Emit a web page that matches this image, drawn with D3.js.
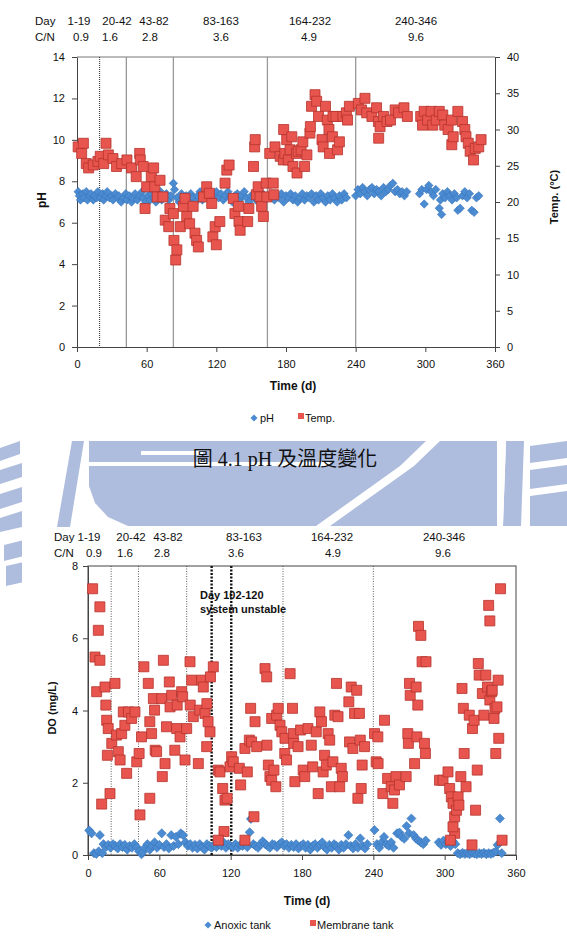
<!DOCTYPE html>
<html>
<head>
<meta charset="utf-8">
<title>pH / Temp / DO</title>
<script src="https://d3js.org/d3.v7.min.js"></script>
<style>
body { margin: 0; background: #fff; }
#fig text { font-family: "Liberation Sans", Arial, sans-serif; fill: #111; }
#fig .axis path, #fig .axis line { stroke: #444; }
</style>
</head>
<body>
<svg id="fig" width="567" height="941"></svg>
<script>
// ---------- data ----------
var dayRanges = ["1-19", "20-42", "43-82", "83-163", "164-232", "240-346"];
var cnRatios = ["0.9", "1.6", "2.8", "3.6", "4.9", "9.6"];
var phaseBreaks = [19.5, 42.5, 83, 164, 240];
var unstableDays = [104, 120.5];
var timeTicks = [0, 60, 120, 180, 240, 300, 360];
var phTicks = [0, 2, 4, 6, 8, 10, 12, 14];
var tempTicks = [0, 5, 10, 15, 20, 25, 30, 35, 40];
var doTicks = [0, 2, 4, 6, 8];

// [day, pH]
var phPoints = [[1,7.5],[2,7.3],[3,7.1],[5,7.4],[6,7.2],[8,7.5],[9,7.1],[11,7.3],[12,7.4],[14,7.1],[15,7.3],[17,7.2],[18,7.5],
  [20,7.2],[22,7.4],[23,7.1],[25,7.3],[26,7.5],[28,7.2],[30,7.3],[31,7.1],[33,7.4],[35,7.2],[36,7.3],[38,7.0],[40,7.2],[42,7.4],
  [43,7.1],[45,7.3],[47,7.0],[48,7.2],[50,7.4],[52,7.1],[54,7.3],[56,7.5],[57,7.2],[59,7.0],[61,7.3],[63,7.1],[64,7.4],[66,7.2],
  [68,7.0],[70,7.3],[72,7.5],[73,7.1],[75,7.2],[77,7.4],[79,7.1],[81,7.3],[83,7.9],[84,7.6],[86,7.2],[88,7.0],[90,7.4],[92,7.2],
  [94,7.3],[96,7.1],[98,7.4],[100,7.2],[102,7.0],[104,7.3],[106,7.5],[108,7.1],[110,7.3],[112,7.2],[114,7.4],[116,7.0],[118,7.3],
  [120,7.5],[122,7.2],[124,7.4],[126,7.1],[128,7.3],[130,7.5],[132,7.2],[134,7.0],[136,7.3],[138,7.4],[140,7.1],[142,7.3],[144,7.5],
  [146,7.2],[148,7.0],[150,7.3],[152,7.4],[154,7.1],[156,7.3],[158,7.2],[160,7.4],[162,7.1],[164,7.3],[166,7.2],[168,7.4],[170,7.1],
  [172,7.3],[174,7.2],[176,7.4],[178,7.0],[180,7.3],[182,7.2],[184,7.4],[186,7.1],[188,7.3],[190,7.0],[192,7.2],[194,7.4],[196,7.1],
  [198,7.3],[200,7.2],[202,7.4],[204,7.0],[206,7.3],[208,7.1],[210,7.4],[212,7.2],[214,7.0],[216,7.3],[218,7.1],[220,7.4],[222,7.2],
  [224,7.0],[226,7.3],[228,7.1],[230,7.4],[232,7.2],[240,7.3],[242,7.6],[244,7.4],[246,7.7],[248,7.5],[250,7.3],[252,7.6],[254,7.7],
  [256,7.4],[258,7.6],[260,7.5],[262,7.3],[264,7.7],[266,7.5],[268,7.6],[270,7.8],[272,7.9],[274,7.5],[276,7.6],[278,7.4],[280,7.5],
  [282,7.3],[284,7.5],[295,7.4],[299,6.9],[297,7.6],[301,7.6],[303,7.8],[305,7.5],[307,7.3],[309,7.6],[312,6.7],[314,6.4],[313,7.1],
  [315,7.4],[317,7.2],[319,7.5],[321,7.3],[323,7.1],[325,7.4],[327,7.2],[328,6.6],[330,6.7],[332,7.3],[334,7.5],[336,7.2],[338,7.4],
  [340,6.6],[342,6.5],[344,7.2],[346,7.3]];

// [day, temperature °C]
var tempPoints = [[1,27.6],[4,26.7],[5.5,28.1],[8,25.3],[10,24.7],[14,25.1],[18,25.6],[20,26.3],[23,25.3],[25,28.1],[27,26.5],
  [31,26],[34,24.9],[38.5,25.3],[43,25.8],[47,24.7],[51,23.5],[54,26.7],[54.5,25.8],[57,24.9],[58.6,19.1],[60,22.1],[64,23.5],
  [66,24.7],[67,22.1],[69,20.7],[71.5,23],[74,20.7],[76,17.5],[79,16.6],[80,19.1],[83,18.4],[83.5,14.7],[85,12],[86,13.4],[89,16.6],
  [91.6,19.4],[93,20.5],[94.5,18],[97,17],[100,19.4],[101.6,15.7],[103,14.7],[104.5,13.8],[109,20.7],[111.7,22.1],[114,21.2],
  [116,19.8],[117,15.2],[119,16.6],[120,14.1],[123,17.3],[127.5,22.6],[129,24.4],[131,25.1],[134.6,20.5],[136,18.4],[139,19.4],
  [139.5,17.3],[140.5,16.1],[147,17.3],[148,19.1],[152,24.9],[153,27.6],[153.5,28.6],[154.5,21],[156,22.1],[157.6,20.7],[159,19.4],
  [160.5,18],[163,22.6],[163.5,20.7],[166,26.7],[169,22.6],[169.5,21],[170.5,27.6],[175,26.3],[177.7,25.8],[178,30],[179,26.7],
  [180.6,28.6],[182,25.8],[183.5,27.2],[185,29],[186,24.9],[189,26.7],[189.5,24],[190.5,27],[193,27.2],[194.5,28.3],[196,24.9],
  [198,26.5],[200.6,29.5],[201,30.4],[202,33.2],[205,34.8],[206.4,33.9],[208,31.8],[211,28.6],[212,27.6],[214,33.2],[215.6,31.3],
  [217,30],[217.5,26.7],[220,29],[220.5,31.8],[223,31.8],[224.4,27.2],[226,28.3],[229,31.8],[232,32.3],[233,31.3],[234.6,33.2],
  [242.3,33.6],[245,32.7],[248,34.3],[249.5,32.3],[254,31.8],[258,33],[259.6,31.1],[259.8,28.8],[261,30.4],[264,31.8],[267,31.1],
  [270,31.3],[274,32.7],[277,32.3],[281.6,33],[284.5,31.8],[296,31.8],[297.6,30.6],[299,32.5],[302,31.3],[305,32.5],[306.4,30.6],
  [309.4,31.3],[312,32.5],[315,32],[316.7,30.6],[319.6,30],[322.5,31.3],[322.8,27.9],[324,29],[328,32.5],[332,31.1],[334,30],
  [335,29],[337,28.1],[338.6,27],[341.5,25.8],[343,27.4],[346,27.6],[348,28.6]];

// [day, DO mg/L]
var anoxicPoints = [[1,0.68],[3,0.6],[5,0.05],[7,0.03],[9,0.1],[10,0.55],[12,0.05],[13,0.3],[15,0.22],[17,0.28],[19,0.2],[21,0.3],
  [23,0.25],[25,0.18],[27,0.3],[29,0.22],[31,0.28],[33,0.15],[35,0.25],[37,0.2],[39,0.3],[41,0.22],[43,0.1],[45,0.02],[46,0.08],
  [48,0.2],[50,0.3],[52,0.15],[54,0.25],[56,0.35],[58,0.2],[60,0.28],[62,0.6],[64,0.22],[66,0.3],[68,0.18],[70,0.55],[72,0.25],
  [74,0.5],[76,0.3],[78,0.6],[80,0.55],[82,0.35],[84,0.25],[86,0.3],[88,0.2],[90,0.28],[92,0.18],[94,0.3],[96,0.22],[98,0.15],
  [100,0.3],[102,0.25],[104,0.2],[106,0.28],[108,0.22],[110,0.3],[112,0.25],[114,0.35],[116,0.2],[118,0.3],[120,0.25],[122,0.22],
  [124,0.3],[126,0.2],[128,0.28],[130,0.25],[132,0.3],[134,0.22],[136,0.63],[137,1.0],[139,0.3],[141,0.25],[143,0.2],[145,0.3],
  [147,0.38],[149,0.3],[151,0.25],[153,0.2],[155,0.3],[157,0.28],[159,0.22],[161,0.3],[163,0.35],[165,0.25],[167,0.3],[169,0.2],
  [171,0.28],[173,0.22],[175,0.3],[177,0.18],[179,0.25],[181,0.3],[183,0.2],[185,0.28],[187,0.15],[189,0.25],[191,0.3],[193,0.2],
  [195,0.28],[197,0.35],[199,0.22],[201,0.15],[203,0.28],[205,0.2],[207,0.3],[209,0.25],[211,0.15],[213,0.28],[215,0.2],[217,0.3],
  [219,0.55],[221,0.25],[223,0.18],[225,0.3],[227,0.2],[229,0.46],[231,0.25],[233,0.18],[235,0.3],[241,0.69],[243,0.3],[245,0.2],
  [247,0.35],[249,0.5],[251,0.3],[253,0.25],[255,0.35],[257,0.2],[260,0.6],[262,0.62],[264,0.5],[266,0.45],[268,0.8],[270,0.6],
  [272,1.01],[274,0.55],[276,0.45],[278,0.4],[280,0.35],[282,0.3],[284,0.4],[295,0.35],[297,0.28],[299,0.4],[301,0.3],[303,0.35],
  [305,0.25],[307,0.38],[309,0.3],[311,0.05],[313,0.02],[315,0.06],[317,0.03],[319,0.05],[321,0.02],[323,0.06],[325,0.04],
  [327,0.02],[329,0.05],[331,0.03],[333,0.06],[335,0.02],[337,0.05],[339,0.03],[341,0.06],[343,0.1],[344.5,0.28],[346.5,1.01],[348,0.05]];

var membranePoints = [[3.9,7.37],[10,6.87],[8.7,6.22],[5.9,5.48],[10,5.39],[7.3,4.52],[14.3,4.65],[15,4.15],[15.7,3.73],[17,3.5],
  [16.3,2.76],[20,3.09],[18.5,1.7],[11.5,1.41],[22.7,4.75],[24,3.32],[25.5,2.86],[27,2.63],[28.3,3.36],[29.7,3.96],[31,3.59],
  [32.5,2.26],[34,3.96],[36.7,3.78],[39.5,3.96],[41,2.58],[43,2.81],[43.7,1.11],[45,3.27],[47,5.21],[50.7,4.75],[52,3.69],
  [53.5,3.36],[55,4.33],[56,4.01],[56.5,2.9],[52,1.57],[57.7,2.86],[62,4.33],[62.5,2.17],[63.4,5.39],[64.8,2.53],[66,3.55],
  [68.4,4.79],[69,4.1],[70.4,4.42],[73,2.9],[74.6,3.5],[75,4.15],[77.4,3.27],[78.8,4.52],[79.6,4.38],[81.6,2.63],[83,3.5],
  [85.8,5.35],[87.2,4.84],[86,4.15],[88.6,3.83],[92.8,2.53],[94,4.01],[95.6,4.84],[97,4.65],[98.4,3.92],[99.8,3.0],[100,4.19],
  [101,3.69],[102.6,3.41],[103,4.93],[105.4,5.21],[109.6,2.35],[111,2.3],[113.3,1.84],[115.2,1.52],[117,1.57],[114.4,0.65],
  [109.6,0.41],[119.4,2.44],[120.8,2.72],[122.2,2.58],[127.3,2.4],[128.4,1.94],[132,2.95],[134,2.3],[135.7,3.18],[136.8,4.06],
  [137.6,3.13],[140.5,3.69],[139.6,1.06],[132,0.41],[141.9,3.0],[148.9,5.16],[150.3,4.93],[150.5,3.04],[151.7,2.49],[153,2.17],
  [154.5,2.07],[156.4,2.35],[158,1.89],[154.5,3.78],[158.7,3.87],[160,4.06],[161.5,3.59],[163,3.41],[165.7,3.23],[165.5,2.81],
  [167,2.63],[170,5.02],[172,4.06],[172.7,3.36],[173,3.09],[174,2.03],[176.7,3.0],[178.8,3.46],[181,2.35],[182.3,2.17],[185,3.5],
  [187.8,3.04],[189,2.44],[192,3.41],[193.6,1.7],[195,3.96],[196.4,3.69],[197.8,2.3],[199,2.76],[200.5,2.49],[202,3.36],
  [203.3,3.18],[204.7,1.89],[206,2.58],[207.6,3.87],[209,4.75],[210.3,3.83],[211.7,1.89],[213,2.4],[214,2.17],[219.4,4.24],
  [220,3.13],[221.4,4.65],[222.8,2.95],[224.2,3.92],[226,4.56],[227,1.57],[228.3,3.92],[229,3.18],[229.8,1.84],[230.6,2.49],
  [232.6,3.0],[241,3.36],[242.4,2.58],[243.8,3.27],[244,2.53],[248,1.7],[249.4,3.73],[252,2.12],[255,1.89],[256.4,1.43],
  [257.8,1.8],[259,2.17],[262,1.94],[267.6,2.17],[269,3.36],[269.5,3.09],[270.4,4.75],[271,4.42],[274.7,2.53],[276,4.65],
  [276.6,3.27],[277.4,4.15],[278,6.33],[280,6.08],[281,5.35],[284.3,5.35],[283,3.09],[283.8,2.81],[295.7,2.07],[298.6,2.07],
  [302.8,2.3],[304.2,1.84],[305.6,1.61],[307,1.43],[308.4,0.6],[307,0.78],[308.4,1.06],[310,1.24],[311.3,1.61],[312,1.38],
  [304.8,0.41],[313.6,2.17],[314.6,4.61],[315.7,4.06],[316.4,2.81],[318,1.89],[320.7,3.87],[323,0.28],[323.4,3.5],[324.8,3.73],
  [326,1.24],[327.4,2.35],[328.3,5.3],[329,4.98],[331.7,4.47],[333,3.87],[334.6,4.98],[336,4.65],[337,6.91],[338,6.48],[338,4.29],
  [339.4,4.52],[340,4.56],[341.5,3.78],[342.3,4.06],[343,2.81],[344,4.1],[345,4.84],[345.5,3.23],[347,7.37],[348.3,0.41]];

// ---------- drawing ----------
var svg = d3.select("#fig");
var blue = "#4a8bd1", blueEdge = "#3570b4";
var red = "#e8554e", redEdge = "#b5332d";
var font = "Liberation Sans, Arial, sans-serif";

// faint watermark logo behind the figure
var wm = svg.append("g").attr("fill", "#aebcdd");
var wmShapes = [
  [[0,448],[20,441],[20,454],[0,461]],
  [[0,470],[22,463],[22,477],[0,484]],
  [[0,494],[22,487],[22,502],[0,509]],
  [[0,518],[22,511],[22,527],[0,532]],
  [[4,545],[24,540],[24,556],[4,561]],
  [[6,566],[24,562],[24,582],[6,586]],
  [[72,441],[84,441],[70,527],[57,527]],
  [[89,441],[497,441],[497,526],[128,526],[108,517],[95,503],[89,486]],
  [[506,441],[524,441],[521,526],[503,526]],
  [[530,446],[567,441],[567,458],[530,463]],
  [[530,470],[567,465],[567,484],[530,489]],
  [[530,496],[567,491],[567,526],[530,526]]
];
wm.selectAll("polygon").data(wmShapes).enter().append("polygon")
  .attr("points", function (d) { return d.join(" "); });
var wmCuts = [
  [[141,451],[203,451],[203,455],[141,455]],
  [[89,462],[330,462],[330,466],[89,466]],
  [[316,526],[330,526],[414,466],[400,466]],
  [[400,466],[414,466],[440,441],[426,441]],
  [[497,441],[506,441],[503,526],[497,526]]
];
svg.append("g").attr("fill", "#fff").selectAll("polygon").data(wmCuts).enter().append("polygon")
  .attr("points", function (d) { return d.join(" "); });
// white page behind the second chart
svg.append("rect").attr("x", 22).attr("y", 528).attr("width", 545).attr("height", 413).attr("fill", "#fff");

function squareMark(side) { return d3.symbol().type(d3.symbolSquare).size(side * side)(); }

function headerRows(g, y0, dayX, dayCx, cnCx) {
  g.append("text").attr("x", dayX).attr("y", y0).attr("font-size", 11.5).text("Day");
  g.append("text").attr("x", dayX).attr("y", y0 + 16).attr("font-size", 11.5).text("C/N");
  g.selectAll(".dr").data(dayRanges).enter().append("text")
    .attr("x", function (d, i) { return dayCx[i]; }).attr("y", y0)
    .attr("text-anchor", "middle").attr("font-size", 11.5).text(function (d) { return d; });
  g.selectAll(".cn").data(cnRatios).enter().append("text")
    .attr("x", function (d, i) { return cnCx[i]; }).attr("y", y0 + 16)
    .attr("text-anchor", "middle").attr("font-size", 11.5).text(function (d) { return d; });
}

function styleAxis(sel) {
  sel.attr("class", "axis").attr("font-family", font).attr("font-size", 11);
  sel.selectAll("text").attr("fill", "#111");
}

// ================= chart 1: pH and temperature =================
var x1 = d3.scaleLinear().domain([0, 360]).range([77, 495]);
var yPh = d3.scaleLinear().domain([0, 14]).range([347, 57]);
var yTemp = d3.scaleLinear().domain([0, 40]).range([347, 57]);
var c1 = svg.append("g");

headerRows(c1.append("g"), 25, 35, [79, 117, 154, 221, 310, 416], [81, 110, 150, 221, 309, 416]);

c1.append("line").attr("x1", 77).attr("x2", 495).attr("y1", 57).attr("y2", 57).attr("stroke", "#777");
c1.selectAll(".phase").data(phaseBreaks).enter().append("line")
  .attr("x1", function (d) { return x1(d); }).attr("x2", function (d) { return x1(d); })
  .attr("y1", 57).attr("y2", 347)
  .attr("stroke", function (d, i) { return i == 0 ? "#222" : "#999"; })
  .attr("stroke-width", function (d, i) { return i == 0 ? 1 : 1.3; })
  .attr("stroke-dasharray", function (d, i) { return i == 0 ? "1,1" : null; });

c1.append("g").attr("transform", "translate(0,347)")
  .call(d3.axisBottom(x1).tickValues(timeTicks).tickSize(5).tickPadding(8).tickSizeOuter(0)).call(styleAxis);
c1.append("g").attr("transform", "translate(77,0)")
  .call(d3.axisLeft(yPh).tickValues(phTicks).tickSize(5).tickPadding(7).tickSizeOuter(0)).call(styleAxis);
c1.append("g").attr("transform", "translate(495,0)")
  .call(d3.axisRight(yTemp).tickValues(tempTicks).tickSize(5).tickPadding(7).tickSizeOuter(0)).call(styleAxis);

c1.append("g").selectAll("path").data(phPoints).enter().append("path")
  .attr("d", squareMark(6))
  .attr("transform", function (d) { return "translate(" + x1(d[0]) + "," + yPh(d[1]) + ") rotate(45)"; })
  .attr("fill", blue).attr("stroke", blueEdge).attr("stroke-width", 0.5);
c1.append("g").selectAll("path").data(tempPoints).enter().append("path")
  .attr("d", squareMark(10))
  .attr("transform", function (d) { return "translate(" + x1(d[0]) + "," + yTemp(d[1]) + ")"; })
  .attr("fill", red).attr("stroke", redEdge).attr("stroke-width", 0.8);

c1.append("text").attr("transform", "translate(46,200) rotate(-90)").attr("text-anchor", "middle")
  .attr("font-size", 12).attr("font-weight", "bold").text("pH");
c1.append("text").attr("transform", "translate(558,197) rotate(-90)").attr("text-anchor", "middle")
  .attr("font-size", 11).attr("font-weight", "bold").text("Temp. (°C)");
c1.append("text").attr("x", 293).attr("y", 390).attr("text-anchor", "middle")
  .attr("font-size", 12).attr("font-weight", "bold").text("Time (d)");

var lg1 = c1.append("g");
lg1.append("path").attr("d", squareMark(5)).attr("transform", "translate(254,418) rotate(45)").attr("fill", blue);
lg1.append("text").attr("x", 260).attr("y", 422).attr("font-size", 11).text("pH");
lg1.append("path").attr("d", squareMark(6)).attr("transform", "translate(301,416)").attr("fill", red);
lg1.append("text").attr("x", 305).attr("y", 422).attr("font-size", 11).text("Temp.");

svg.append("text").attr("x", 285).attr("y", 466).attr("text-anchor", "middle")
  .attr("font-size", 20)
  .style("font-family", "'Liberation Serif', 'Noto Sans CJK TC', serif").text("圖 4.1 pH 及溫度變化");

// ================= chart 2: dissolved oxygen =================
var x2 = d3.scaleLinear().domain([0, 360]).range([88, 516]);
var yDo = d3.scaleLinear().domain([0, 8]).range([855, 566]);
var c2 = svg.append("g");

headerRows(c2.append("g"), 541, 54, [89, 131, 168, 244, 332, 444], [94, 125, 162, 236, 333, 443]);

c2.append("rect").attr("x", 88).attr("y", 566).attr("width", 428).attr("height", 289)
  .attr("fill", "none").attr("stroke", "#444");
c2.selectAll(".phase").data(phaseBreaks).enter().append("line")
  .attr("x1", function (d) { return x2(d); }).attr("x2", function (d) { return x2(d); })
  .attr("y1", 566).attr("y2", 855)
  .attr("stroke", "#333").attr("stroke-width", 0.8).attr("stroke-dasharray", "1,1.5");
c2.selectAll(".unstable").data(unstableDays).enter().append("line")
  .attr("x1", function (d) { return x2(d); }).attr("x2", function (d) { return x2(d); })
  .attr("y1", 566).attr("y2", 855)
  .attr("stroke", "#111").attr("stroke-width", 2.4).attr("stroke-dasharray", "2,1.5");

c2.append("g").attr("transform", "translate(0,855)")
  .call(d3.axisBottom(x2).tickValues(timeTicks).tickSize(5).tickPadding(9).tickSizeOuter(0)).call(styleAxis);
c2.append("g").attr("transform", "translate(88,0)")
  .call(d3.axisLeft(yDo).tickValues(doTicks).tickSize(5).tickPadding(5).tickSizeOuter(0)).call(styleAxis);

c2.append("text").attr("x", 200).attr("y", 599).attr("font-size", 11).attr("font-weight", "bold").text("Day 102-120");
c2.append("text").attr("x", 200).attr("y", 613).attr("font-size", 11).attr("font-weight", "bold").text("system unstable");

c2.append("g").selectAll("path").data(anoxicPoints).enter().append("path")
  .attr("d", squareMark(6.5))
  .attr("transform", function (d) { return "translate(" + x2(d[0]) + "," + yDo(d[1]) + ") rotate(45)"; })
  .attr("fill", blue).attr("stroke", blueEdge).attr("stroke-width", 0.5);
c2.append("g").selectAll("path").data(membranePoints).enter().append("path")
  .attr("d", squareMark(10))
  .attr("transform", function (d) { return "translate(" + x2(d[0]) + "," + yDo(d[1]) + ")"; })
  .attr("fill", red).attr("stroke", redEdge).attr("stroke-width", 0.8);

c2.append("text").attr("transform", "translate(56,708) rotate(-90)").attr("text-anchor", "middle")
  .attr("font-size", 11).attr("font-weight", "bold").text("DO (mg/L)");
c2.append("text").attr("x", 307).attr("y", 905).attr("text-anchor", "middle")
  .attr("font-size", 12).attr("font-weight", "bold").text("Time (d)");

var lg2 = c2.append("g");
lg2.append("path").attr("d", squareMark(5)).attr("transform", "translate(208,925) rotate(45)").attr("fill", blue);
lg2.append("text").attr("x", 214).attr("y", 929).attr("font-size", 11).text("Anoxic tank");
lg2.append("path").attr("d", squareMark(6)).attr("transform", "translate(313,923)").attr("fill", red);
lg2.append("text").attr("x", 317).attr("y", 929).attr("font-size", 11).text("Membrane tank");
</script>
</body>
</html>
